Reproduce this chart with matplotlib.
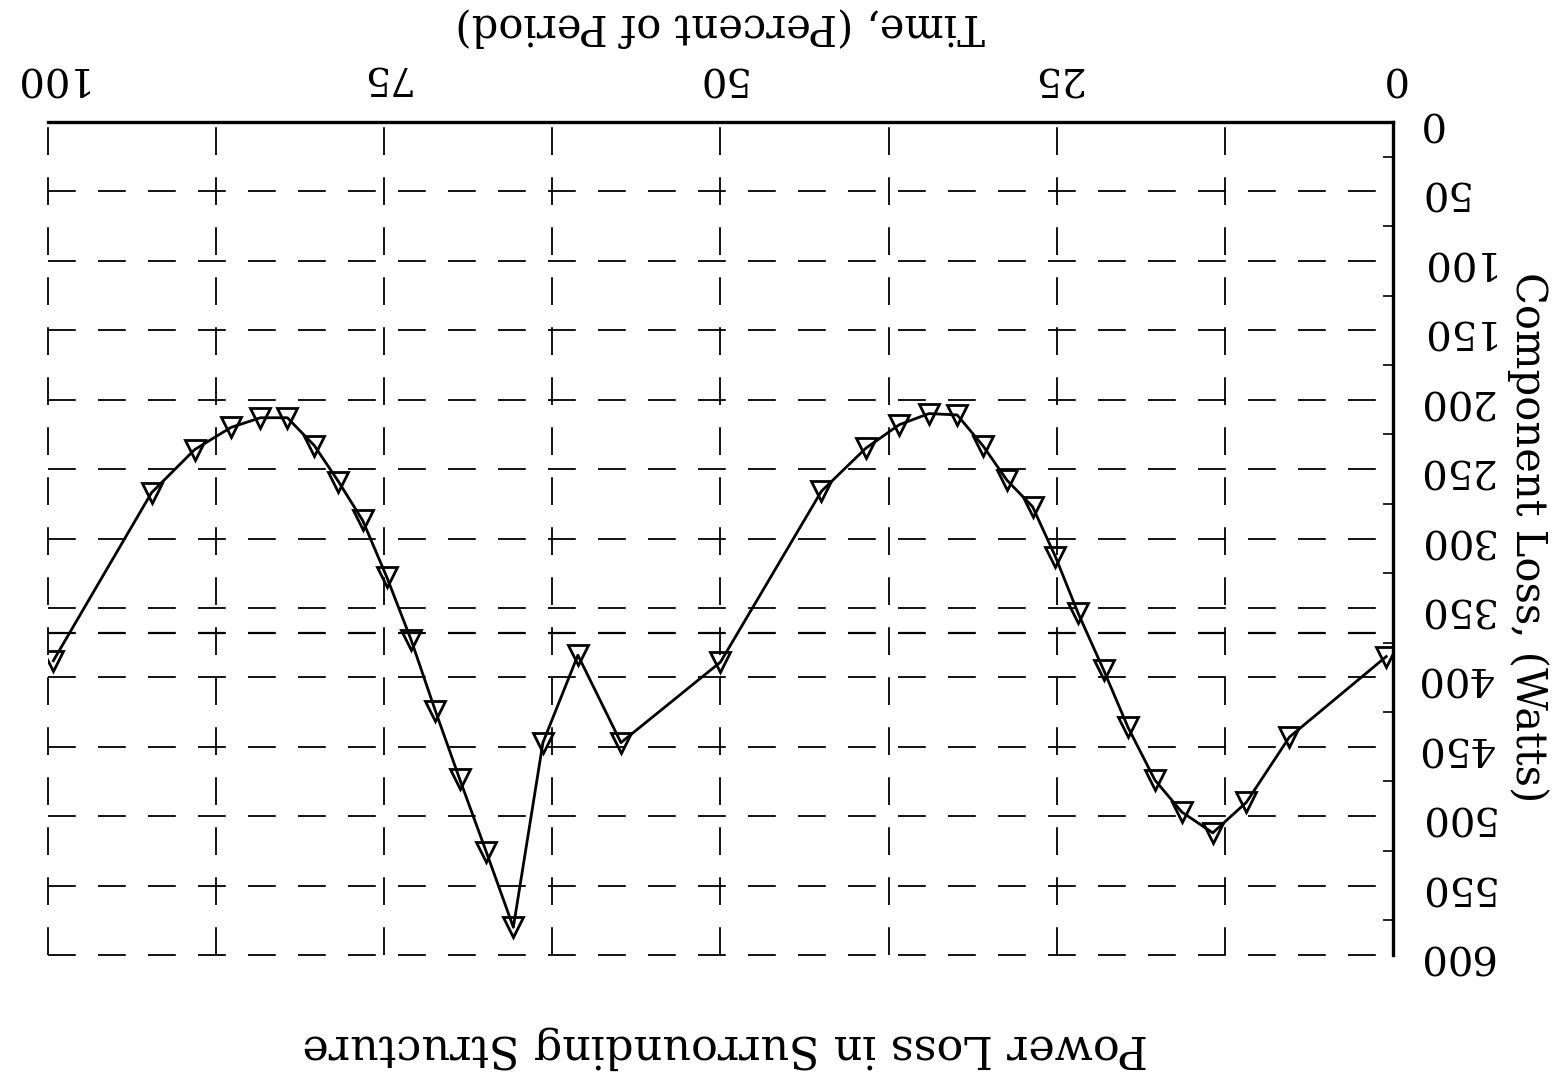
#!/usr/bin/env python3

"""Power loss in surrounding structure, drawn the way the scanned sheet sits (upside down)."""

import matplotlib

matplotlib.use("Agg")
import matplotlib.pyplot as plt
import numpy as np

# time as percent of period, and component loss in watts
pct = [0.5, 7.7, 10.9, 13.4, 15.7, 17.7, 19.7, 21.5, 23.4, 25.1, 26.8, 28.7,
       30.5, 32.4, 34.5, 36.7, 39.2, 42.5, 50.0, 57.4, 60.6, 63.2, 65.4, 67.4,
       69.4, 71.2, 73.0, 74.8, 76.6, 78.4, 80.2, 82.2, 84.2, 86.4, 89.1, 92.3,
       99.6]
watts = [385, 443, 490, 512, 497, 474, 436, 395, 354, 313, 277, 258,
         233, 211, 210, 218, 235, 266, 389, 447, 384, 447, 580, 526,
         473, 424, 373, 328, 287, 259, 233, 213, 213, 220, 236, 267,
         388]
mean_loss = 368

x_ticks = [0, 25, 50, 75, 100]
x_grid = np.arange(0, 100.1, 12.5)
y_ticks = np.arange(0, 601, 50)
y_minor = np.arange(25, 600, 50)

plt.rcParams["font.family"] = ["DejaVu Serif"]
plt.rcParams["lines.scale_dashes"] = False

fig = plt.figure(figsize=(15.62, 10.75), dpi=100)
ax = fig.add_axes((0.0307, 0.1116, 0.8611, 0.7749))

dash = (0, (20, 16))
for gx in x_grid:
    ax.axvline(gx, color="black", lw=1.3, linestyle=dash, clip_on=False, zorder=1)
for gy in y_ticks:
    ax.axhline(gy, color="black", lw=1.3, linestyle=dash, clip_on=False, zorder=1)
ax.axhline(mean_loss, color="black", lw=1.6, linestyle=dash, zorder=1)

ax.plot(pct, watts, color="black", lw=2.0, marker="v", markersize=14,
        markerfacecolor="none", markeredgewidth=2.0, zorder=3)

# the sheet is upside down: 0 % sits on the right, 0 W at the top
ax.set_xlim(100, 0)
ax.set_ylim(600, 0)

ax.xaxis.tick_top()
ax.yaxis.tick_right()
ax.set_xticks(x_ticks)
ax.set_yticks(y_ticks)
ax.set_yticks(y_minor, minor=True)
ax.tick_params(axis="both", which="major", length=0, labelsize=29,
               labelrotation=180)
ax.tick_params(axis="x", which="major", pad=19)
ax.tick_params(axis="y", which="major", pad=17)
ax.tick_params(axis="y", which="minor", direction="in", length=7, width=1.2)
for label in ax.get_yticklabels():
    label.set_va("center")

for side in ("left", "bottom"):
    ax.spines[side].set_visible(False)
for side in ("top", "right"):
    ax.spines[side].set_linewidth(2.4)

fig.text(0.461, 0.975, "Time, (Percent of Period)", fontsize=30,
         rotation=180, ha="center", va="center")
fig.text(0.978, 0.500, "Component Loss, (Watts)", fontsize=30,
         rotation=270, ha="center", va="center")
fig.text(0.464, 0.025, "Power Loss in Surrounding Structure", fontsize=32,
         rotation=180, ha="center", va="center")

fig.savefig("out.png", dpi=100)
